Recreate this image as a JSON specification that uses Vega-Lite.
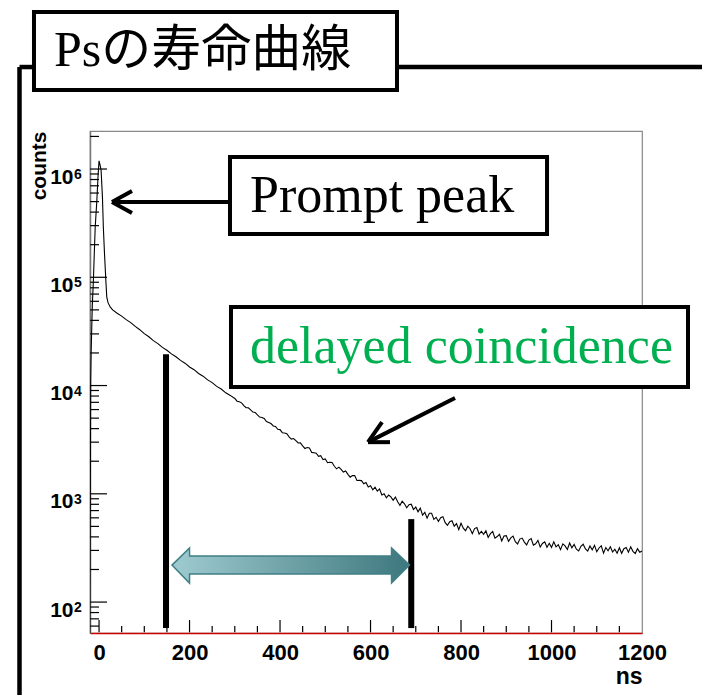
{
  "$schema": "https://vega.github.io/schema/vega-lite/v6.json",
  "width": 552,
  "height": 502,
  "autosize": {"type": "none"},
  "padding": {"left": 90, "top": 131, "right": 60, "bottom": 62},
  "background": "white",
  "config": {"view": {"stroke": "#888888", "strokeWidth": 1.2}},
  "datasets": {
    "hist": [
      {"ns": -20.5, "counts": 30}, {"ns": -18.5, "counts": 11000}, {"ns": -17.5, "counts": 20000}, {"ns": -15, "counts": 53000},
      {"ns": -12.5, "counts": 94000}, {"ns": -10.5, "counts": 167000}, {"ns": -8.5, "counts": 290000}, {"ns": -5, "counts": 500000},
      {"ns": -2, "counts": 900000}, {"ns": 0, "counts": 1190000}, {"ns": 2, "counts": 1100000}, {"ns": 4.5, "counts": 980000},
      {"ns": 7.5, "counts": 550000}, {"ns": 9.5, "counts": 290000}, {"ns": 12, "counts": 167000}, {"ns": 15, "counts": 94000},
      {"ns": 17, "counts": 66000}, {"ns": 20, "counts": 58000}, {"ns": 25, "counts": 53000}, {"ns": 30, "counts": 50000},
      {"ns": 40, "counts": 46600}, {"ns": 50, "counts": 43800}, {"ns": 60, "counts": 40600}, {"ns": 70, "counts": 38100},
      {"ns": 80, "counts": 35200}, {"ns": 90, "counts": 32800}, {"ns": 100, "counts": 30200}, {"ns": 110, "counts": 28200},
      {"ns": 120, "counts": 26000}, {"ns": 130, "counts": 24400}, {"ns": 140, "counts": 22500}, {"ns": 150, "counts": 21200},
      {"ns": 160, "counts": 19600}, {"ns": 170, "counts": 18450}, {"ns": 180, "counts": 17080}, {"ns": 190, "counts": 16100},
      {"ns": 200, "counts": 14850}, {"ns": 210, "counts": 14010}, {"ns": 220, "counts": 12920}, {"ns": 230, "counts": 12210},
      {"ns": 240, "counts": 11280}, {"ns": 250, "counts": 10650}, {"ns": 260, "counts": 9830}, {"ns": 270, "counts": 9290},
      {"ns": 280, "counts": 8570}, {"ns": 290, "counts": 8110},
      {"ns": 300, "counts": 7605}, {"ns": 305, "counts": 7170}, {"ns": 310, "counts": 7072}, {"ns": 315, "counts": 6923},
      {"ns": 320, "counts": 6529}, {"ns": 325, "counts": 6234}, {"ns": 330, "counts": 6228}, {"ns": 335, "counts": 5963},
      {"ns": 340, "counts": 5693}, {"ns": 345, "counts": 5645}, {"ns": 350, "counts": 5353}, {"ns": 355, "counts": 5113},
      {"ns": 360, "counts": 5072}, {"ns": 365, "counts": 4966}, {"ns": 370, "counts": 4651}, {"ns": 375, "counts": 4558},
      {"ns": 380, "counts": 4454}, {"ns": 385, "counts": 4235}, {"ns": 390, "counts": 4191}, {"ns": 395, "counts": 3946},
      {"ns": 400, "counts": 3918}, {"ns": 405, "counts": 3669}, {"ns": 410, "counts": 3649}, {"ns": 415, "counts": 3590},
      {"ns": 420, "counts": 3363}, {"ns": 425, "counts": 3201}, {"ns": 430, "counts": 3240}, {"ns": 435, "counts": 3094},
      {"ns": 440, "counts": 2949}, {"ns": 445, "counts": 2953}, {"ns": 450, "counts": 2777}, {"ns": 455, "counts": 2623},
      {"ns": 460, "counts": 2674}, {"ns": 465, "counts": 2654}, {"ns": 470, "counts": 2412}, {"ns": 475, "counts": 2398},
      {"ns": 480, "counts": 2372}, {"ns": 485, "counts": 2221}, {"ns": 490, "counts": 2252}, {"ns": 495, "counts": 2068},
      {"ns": 500, "counts": 2098}, {"ns": 505, "counts": 1936}, {"ns": 510, "counts": 1956}, {"ns": 515, "counts": 1945},
      {"ns": 520, "counts": 1797}, {"ns": 525, "counts": 1700}, {"ns": 530, "counts": 1763}, {"ns": 535, "counts": 1678},
      {"ns": 540, "counts": 1590}, {"ns": 545, "counts": 1623}, {"ns": 550, "counts": 1513}, {"ns": 555, "counts": 1425},
      {"ns": 560, "counts": 1472}, {"ns": 565, "counts": 1473}, {"ns": 570, "counts": 1326}, {"ns": 575, "counts": 1330},
      {"ns": 580, "counts": 1325}, {"ns": 585, "counts": 1236}, {"ns": 590, "counts": 1269}, {"ns": 595, "counts": 1157},
      {"ns": 600, "counts": 1187}, {"ns": 605, "counts": 1089}, {"ns": 610, "counts": 1152}, {"ns": 615, "counts": 1057},
      {"ns": 620, "counts": 1109}, {"ns": 625, "counts": 974}, {"ns": 630, "counts": 1001}, {"ns": 635, "counts": 919},
      {"ns": 640, "counts": 974}, {"ns": 645, "counts": 937}, {"ns": 650, "counts": 870}, {"ns": 655, "counts": 933},
      {"ns": 660, "counts": 844}, {"ns": 665, "counts": 782}, {"ns": 670, "counts": 855}, {"ns": 675, "counts": 809},
      {"ns": 680, "counts": 744}, {"ns": 685, "counts": 793}, {"ns": 690, "counts": 801}, {"ns": 695, "counts": 715},
      {"ns": 700, "counts": 754}, {"ns": 705, "counts": 682}, {"ns": 710, "counts": 737}, {"ns": 715, "counts": 635},
      {"ns": 720, "counts": 674}, {"ns": 725, "counts": 596}, {"ns": 730, "counts": 661}, {"ns": 735, "counts": 661},
      {"ns": 740, "counts": 581}, {"ns": 745, "counts": 607}, {"ns": 750, "counts": 555}, {"ns": 755, "counts": 602},
      {"ns": 760, "counts": 615}, {"ns": 765, "counts": 542}, {"ns": 770, "counts": 512}, {"ns": 775, "counts": 552},
      {"ns": 780, "counts": 564}, {"ns": 785, "counts": 502}, {"ns": 790, "counts": 530}, {"ns": 795, "counts": 466},
      {"ns": 800, "counts": 534}, {"ns": 805, "counts": 482}, {"ns": 810, "counts": 456}, {"ns": 815, "counts": 502},
      {"ns": 820, "counts": 476}, {"ns": 825, "counts": 428}, {"ns": 830, "counts": 477}, {"ns": 835, "counts": 488},
      {"ns": 840, "counts": 425}, {"ns": 845, "counts": 450}, {"ns": 850, "counts": 423}, {"ns": 855, "counts": 456},
      {"ns": 860, "counts": 395}, {"ns": 865, "counts": 429}, {"ns": 870, "counts": 449}, {"ns": 875, "counts": 390},
      {"ns": 880, "counts": 403}, {"ns": 885, "counts": 423}, {"ns": 890, "counts": 367}, {"ns": 895, "counts": 407},
      {"ns": 900, "counts": 411}, {"ns": 905, "counts": 364}, {"ns": 910, "counts": 392}, {"ns": 915, "counts": 407},
      {"ns": 920, "counts": 362}, {"ns": 925, "counts": 344}, {"ns": 930, "counts": 382}, {"ns": 935, "counts": 390},
      {"ns": 940, "counts": 358}, {"ns": 945, "counts": 337}, {"ns": 950, "counts": 374}, {"ns": 955, "counts": 386},
      {"ns": 960, "counts": 336}, {"ns": 965, "counts": 345}, {"ns": 970, "counts": 371}, {"ns": 975, "counts": 323},
      {"ns": 980, "counts": 348}, {"ns": 985, "counts": 360}, {"ns": 990, "counts": 321}, {"ns": 995, "counts": 349},
      {"ns": 1000, "counts": 320}, {"ns": 1005, "counts": 360}, {"ns": 1010, "counts": 324}, {"ns": 1015, "counts": 339},
      {"ns": 1020, "counts": 305}, {"ns": 1025, "counts": 345}, {"ns": 1030, "counts": 330}, {"ns": 1035, "counts": 306},
      {"ns": 1040, "counts": 351}, {"ns": 1045, "counts": 317}, {"ns": 1050, "counts": 341}, {"ns": 1055, "counts": 308},
      {"ns": 1060, "counts": 297}, {"ns": 1065, "counts": 328}, {"ns": 1070, "counts": 342}, {"ns": 1075, "counts": 310},
      {"ns": 1080, "counts": 296}, {"ns": 1085, "counts": 330}, {"ns": 1090, "counts": 304}, {"ns": 1095, "counts": 334},
      {"ns": 1100, "counts": 292}, {"ns": 1105, "counts": 316}, {"ns": 1110, "counts": 331}, {"ns": 1115, "counts": 283},
      {"ns": 1120, "counts": 319}, {"ns": 1125, "counts": 298}, {"ns": 1130, "counts": 324}, {"ns": 1135, "counts": 290},
      {"ns": 1140, "counts": 308}, {"ns": 1145, "counts": 283}, {"ns": 1150, "counts": 318}, {"ns": 1155, "counts": 282},
      {"ns": 1160, "counts": 311}, {"ns": 1165, "counts": 319}, {"ns": 1170, "counts": 289}, {"ns": 1175, "counts": 324},
      {"ns": 1180, "counts": 294}, {"ns": 1185, "counts": 281}, {"ns": 1190, "counts": 311}, {"ns": 1195, "counts": 289},
      {"ns": 1200, "counts": 296}
    ],
    "segments": [
      {"kind": "arrow", "x": 289.4, "x2": 28.6, "y": 496000, "y2": 496000},
      {"kind": "arrow", "x": 28.6, "x2": 72.8, "y": 496000, "y2": 626000},
      {"kind": "arrow", "x": 28.6, "x2": 72.8, "y": 496000, "y2": 392000},
      {"kind": "arrow", "x": 786.7, "x2": 594.4, "y": 7660, "y2": 3000},
      {"kind": "arrow", "x": 594.4, "x2": 625.4, "y": 3000, "y2": 4600},
      {"kind": "arrow", "x": 594.4, "x2": 643.1, "y": 3000, "y2": 3000},
      {"kind": "tick", "x": -19.6, "x2": 17.6, "y": 100, "y2": 100}, {"kind": "tick", "x": -19.6, "x2": 17.6, "y": 1000, "y2": 1000},
      {"kind": "tick", "x": -19.6, "x2": 17.6, "y": 10000, "y2": 10000}, {"kind": "tick", "x": -19.6, "x2": 17.6, "y": 100000, "y2": 100000},
      {"kind": "tick", "x": -19.6, "x2": 17.6, "y": 1000000, "y2": 1000000},
      {"kind": "tick", "x": -19.6, "x2": -0.1, "y": 60, "y2": 60}, {"kind": "tick", "x": -19.6, "x2": -0.1, "y": 70, "y2": 70},
      {"kind": "tick", "x": -19.6, "x2": -0.1, "y": 80, "y2": 80}, {"kind": "tick", "x": -19.6, "x2": -0.1, "y": 90, "y2": 90},
      {"kind": "tick", "x": -19.6, "x2": -0.1, "y": 200, "y2": 200}, {"kind": "tick", "x": -19.6, "x2": -0.1, "y": 300, "y2": 300},
      {"kind": "tick", "x": -19.6, "x2": -0.1, "y": 400, "y2": 400}, {"kind": "tick", "x": -19.6, "x2": -0.1, "y": 500, "y2": 500},
      {"kind": "tick", "x": -19.6, "x2": -0.1, "y": 600, "y2": 600}, {"kind": "tick", "x": -19.6, "x2": -0.1, "y": 700, "y2": 700},
      {"kind": "tick", "x": -19.6, "x2": -0.1, "y": 800, "y2": 800}, {"kind": "tick", "x": -19.6, "x2": -0.1, "y": 900, "y2": 900},
      {"kind": "tick", "x": -19.6, "x2": -0.1, "y": 2000, "y2": 2000}, {"kind": "tick", "x": -19.6, "x2": -0.1, "y": 3000, "y2": 3000},
      {"kind": "tick", "x": -19.6, "x2": -0.1, "y": 4000, "y2": 4000}, {"kind": "tick", "x": -19.6, "x2": -0.1, "y": 5000, "y2": 5000},
      {"kind": "tick", "x": -19.6, "x2": -0.1, "y": 6000, "y2": 6000}, {"kind": "tick", "x": -19.6, "x2": -0.1, "y": 7000, "y2": 7000},
      {"kind": "tick", "x": -19.6, "x2": -0.1, "y": 8000, "y2": 8000}, {"kind": "tick", "x": -19.6, "x2": -0.1, "y": 9000, "y2": 9000},
      {"kind": "tick", "x": -19.6, "x2": -0.1, "y": 20000, "y2": 20000}, {"kind": "tick", "x": -19.6, "x2": -0.1, "y": 30000, "y2": 30000},
      {"kind": "tick", "x": -19.6, "x2": -0.1, "y": 40000, "y2": 40000}, {"kind": "tick", "x": -19.6, "x2": -0.1, "y": 50000, "y2": 50000},
      {"kind": "tick", "x": -19.6, "x2": -0.1, "y": 60000, "y2": 60000}, {"kind": "tick", "x": -19.6, "x2": -0.1, "y": 70000, "y2": 70000},
      {"kind": "tick", "x": -19.6, "x2": -0.1, "y": 80000, "y2": 80000}, {"kind": "tick", "x": -19.6, "x2": -0.1, "y": 90000, "y2": 90000},
      {"kind": "tick", "x": -19.6, "x2": -0.1, "y": 200000, "y2": 200000}, {"kind": "tick", "x": -19.6, "x2": -0.1, "y": 300000, "y2": 300000},
      {"kind": "tick", "x": -19.6, "x2": -0.1, "y": 400000, "y2": 400000}, {"kind": "tick", "x": -19.6, "x2": -0.1, "y": 500000, "y2": 500000},
      {"kind": "tick", "x": -19.6, "x2": -0.1, "y": 600000, "y2": 600000}, {"kind": "tick", "x": -19.6, "x2": -0.1, "y": 700000, "y2": 700000},
      {"kind": "tick", "x": -19.6, "x2": -0.1, "y": 800000, "y2": 800000}, {"kind": "tick", "x": -19.6, "x2": -0.1, "y": 900000, "y2": 900000},
      {"kind": "tick", "x": -19.6, "x2": -0.1, "y": 2000000, "y2": 2000000},
      {"kind": "tick", "x": 0, "x2": 0, "y": 52.5, "y2": 68.2}, {"kind": "tick", "x": 200, "x2": 200, "y": 52.5, "y2": 68.2},
      {"kind": "tick", "x": 400, "x2": 400, "y": 52.5, "y2": 68.2}, {"kind": "tick", "x": 600, "x2": 600, "y": 52.5, "y2": 68.2},
      {"kind": "tick", "x": 800, "x2": 800, "y": 52.5, "y2": 68.2}, {"kind": "tick", "x": 1000, "x2": 1000, "y": 52.5, "y2": 68.2},
      {"kind": "tick", "x": 50, "x2": 50, "y": 52.5, "y2": 60.1}, {"kind": "tick", "x": 100, "x2": 100, "y": 52.5, "y2": 60.1},
      {"kind": "tick", "x": 150, "x2": 150, "y": 52.5, "y2": 60.1}, {"kind": "tick", "x": 250, "x2": 250, "y": 52.5, "y2": 60.1},
      {"kind": "tick", "x": 300, "x2": 300, "y": 52.5, "y2": 60.1}, {"kind": "tick", "x": 350, "x2": 350, "y": 52.5, "y2": 60.1},
      {"kind": "tick", "x": 450, "x2": 450, "y": 52.5, "y2": 60.1}, {"kind": "tick", "x": 500, "x2": 500, "y": 52.5, "y2": 60.1},
      {"kind": "tick", "x": 550, "x2": 550, "y": 52.5, "y2": 60.1}, {"kind": "tick", "x": 650, "x2": 650, "y": 52.5, "y2": 60.1},
      {"kind": "tick", "x": 700, "x2": 700, "y": 52.5, "y2": 60.1}, {"kind": "tick", "x": 750, "x2": 750, "y": 52.5, "y2": 60.1},
      {"kind": "tick", "x": 850, "x2": 850, "y": 52.5, "y2": 60.1}, {"kind": "tick", "x": 900, "x2": 900, "y": 52.5, "y2": 60.1},
      {"kind": "tick", "x": 950, "x2": 950, "y": 52.5, "y2": 60.1}, {"kind": "tick", "x": 1050, "x2": 1050, "y": 52.5, "y2": 60.1},
      {"kind": "tick", "x": 1100, "x2": 1100, "y": 52.5, "y2": 60.1}, {"kind": "tick", "x": 1150, "x2": 1150, "y": 52.5, "y2": 60.1}
    ],
    "bars": [
      {"x": 148, "y": 57.5, "y2": 19500},
      {"x": 690, "y": 57.5, "y2": 584}
    ],
    "frame": [
      {"x": -175.8, "x2": -143.8, "y": 8750000, "y2": 8750000},
      {"x": -175.8, "x2": -175.8, "y": 8750000, "y2": 5},
      {"x": 658.5, "x2": 1345, "y": 8750000, "y2": 8750000}
    ],
    "boxes": [
      {"x": -143.8, "x2": 658.5, "y": 28200000, "y2": 5370000},
      {"x": 289.4, "x2": 990.1, "y": 1290000, "y2": 251000},
      {"x": 291.6, "x2": 1301.7, "y": 53100, "y2": 9680}
    ],
    "notes": [
      {"key": "title", "text": "Psの寿命曲線", "x": -99.6, "y": 12300000},
      {"key": "prompt", "text": "Prompt peak", "x": 333.6, "y": 563000},
      {"key": "delayed", "text": "delayed coincidence", "x": 333.6, "y": 22700}
    ],
    "exponents": [
      {"y": 100, "sup": "2"}, {"y": 1000, "sup": "3"}, {"y": 10000, "sup": "4"}, {"y": 100000, "sup": "5"}, {"y": 1000000, "sup": "6"}
    ],
    "span": [
      {"x": 161.2, "top": 219.6, "bottom": 219.6},
      {"x": 199.9, "top": 315.3, "bottom": 149.8},
      {"x": 200.1, "top": 266, "bottom": 181.4},
      {"x": 646.3, "top": 266, "bottom": 181.4},
      {"x": 646.5, "top": 315.3, "bottom": 149.8},
      {"x": 686.2, "top": 219.6, "bottom": 219.6}
    ]
  },
  "layer": [
    {
      "data": {"name": "hist"},
      "mark": {"type": "line", "color": "black", "strokeWidth": 1.1, "clip": true},
      "encoding": {
        "x": {
          "field": "ns", "type": "quantitative",
          "scale": {"domain": [-20, 1200], "nice": false, "zero": false},
          "axis": {
            "orient": "bottom", "values": [0, 200, 400, 600, 800, 1000, 1200], "format": "d",
            "ticks": false,
            "domainColor": "#cc0000", "domainWidth": 1.6,
            "labelPadding": 9, "labelFont": "Liberation Sans", "labelFontWeight": "bold",
            "labelFontSize": 22, "labelColor": "black", "labelFlush": false,
            "grid": false,
            "title": "ns", "titleFont": "Liberation Sans", "titleFontWeight": "bold", "titleFontSize": 23,
            "titleColor": "black", "titleAnchor": "end", "titlePadding": 2
          }
        },
        "y": {
          "field": "counts", "type": "quantitative",
          "scale": {"type": "log", "domain": [51.8, 2245000], "nice": false},
          "axis": {
            "orient": "left", "values": [100, 1000, 10000, 100000, 1000000],
            "ticks": false,
            "domainColor": "#777777", "domainWidth": 1.5,
            "labelPadding": 17, "labelFont": "Liberation Sans", "labelFontWeight": "bold",
            "labelFontSize": 21, "labelColor": "black", "labelBaseline": "alphabetic", "labelOffset": 14,
            "labelFlush": false,
            "labelExpr": "'10'",
            "grid": false,
            "title": "counts", "titleFont": "Liberation Sans", "titleFontWeight": "bold", "titleFontSize": 21,
            "titleColor": "black", "titleAnchor": "end", "titlePadding": 0
          }
        }
      }
    },
    {
      "data": {"name": "exponents"},
      "mark": {"type": "text", "align": "left", "baseline": "top", "dx": -16, "dy": -1, "font": "Liberation Sans", "fontWeight": "bold", "fontSize": 14, "color": "black"},
      "encoding": {
        "x": {"datum": -20, "type": "quantitative", "scale": {"domain": [-20, 1200], "nice": false, "zero": false}},
        "y": {"field": "y", "type": "quantitative", "scale": {"type": "log", "domain": [51.8, 2245000], "nice": false}},
        "text": {"field": "sup"}
      }
    },
    {
      "data": {"name": "bars"},
      "mark": {"type": "rule", "color": "black", "strokeWidth": 6},
      "encoding": {
        "x": {"field": "x", "type": "quantitative", "scale": {"domain": [-20, 1200], "nice": false, "zero": false}},
        "y": {"field": "y", "type": "quantitative", "scale": {"type": "log", "domain": [51.8, 2245000], "nice": false}},
        "y2": {"field": "y2"}
      }
    },
    {
      "mark": {"type": "rule", "color": "#cc0000", "strokeWidth": 1.6},
      "encoding": {
        "x": {"datum": 1200, "type": "quantitative", "scale": {"domain": [-20, 1200], "nice": false, "zero": false}}
      }
    },
    {
      "data": {"name": "frame"},
      "mark": {"type": "rule", "color": "black", "strokeWidth": 4.5},
      "encoding": {
        "x": {"field": "x", "type": "quantitative", "scale": {"domain": [-20, 1200], "nice": false, "zero": false}},
        "x2": {"field": "x2"},
        "y": {"field": "y", "type": "quantitative", "scale": {"type": "log", "domain": [51.8, 2245000], "nice": false}},
        "y2": {"field": "y2"}
      }
    },
    {
      "data": {"name": "boxes"},
      "mark": {"type": "rect", "fill": "white", "stroke": "black", "strokeWidth": 4},
      "encoding": {
        "x": {"field": "x", "type": "quantitative", "scale": {"domain": [-20, 1200], "nice": false, "zero": false}},
        "x2": {"field": "x2"},
        "y": {"field": "y", "type": "quantitative", "scale": {"type": "log", "domain": [51.8, 2245000], "nice": false}},
        "y2": {"field": "y2"}
      }
    },
    {
      "data": {"name": "notes"},
      "transform": [{"filter": "datum.key == 'title'"}],
      "mark": {"type": "text", "align": "left", "baseline": "middle", "font": "Liberation Serif, Noto Sans CJK JP", "fontSize": 50, "color": "black"},
      "encoding": {
        "x": {"field": "x", "type": "quantitative", "scale": {"domain": [-20, 1200], "nice": false, "zero": false}},
        "y": {"field": "y", "type": "quantitative", "scale": {"type": "log", "domain": [51.8, 2245000], "nice": false}},
        "text": {"field": "text"}
      }
    },
    {
      "data": {"name": "notes"},
      "transform": [{"filter": "datum.key == 'prompt'"}],
      "mark": {"type": "text", "align": "left", "baseline": "middle", "font": "Liberation Serif", "fontSize": 52, "color": "black"},
      "encoding": {
        "x": {"field": "x", "type": "quantitative", "scale": {"domain": [-20, 1200], "nice": false, "zero": false}},
        "y": {"field": "y", "type": "quantitative", "scale": {"type": "log", "domain": [51.8, 2245000], "nice": false}},
        "text": {"field": "text"}
      }
    },
    {
      "data": {"name": "notes"},
      "transform": [{"filter": "datum.key == 'delayed'"}],
      "mark": {"type": "text", "align": "left", "baseline": "middle", "font": "Liberation Serif", "fontSize": 52, "color": "#00b050"},
      "encoding": {
        "x": {"field": "x", "type": "quantitative", "scale": {"domain": [-20, 1200], "nice": false, "zero": false}},
        "y": {"field": "y", "type": "quantitative", "scale": {"type": "log", "domain": [51.8, 2245000], "nice": false}},
        "text": {"field": "text"}
      }
    },
    {
      "data": {"name": "span"},
      "mark": {
        "type": "area", "interpolate": "linear", "stroke": "#3f7f86", "strokeWidth": 1.5, "opacity": 1,
        "fill": {"x1": 0, "y1": 0, "x2": 1, "y2": 0, "gradient": "linear",
                 "stops": [{"offset": 0, "color": "#9fcbd0"}, {"offset": 1, "color": "#3d787e"}]}
      },
      "encoding": {
        "x": {"field": "x", "type": "quantitative", "scale": {"domain": [-20, 1200], "nice": false, "zero": false}},
        "y": {"field": "top", "type": "quantitative", "scale": {"type": "log", "domain": [51.8, 2245000], "nice": false}},
        "y2": {"field": "bottom"}
      }
    },
    {
      "data": {"name": "segments"},
      "mark": {"type": "rule", "color": "black", "strokeCap": "butt"},
      "encoding": {
        "x": {"field": "x", "type": "quantitative", "scale": {"domain": [-20, 1200], "nice": false, "zero": false}},
        "x2": {"field": "x2"},
        "y": {"field": "y", "type": "quantitative", "scale": {"type": "log", "domain": [51.8, 2245000], "nice": false}},
        "y2": {"field": "y2"},
        "strokeWidth": {"field": "kind", "type": "nominal", "scale": {"domain": ["arrow", "tick"], "range": [4, 1.2]}, "legend": null}
      }
    }
  ]
}
